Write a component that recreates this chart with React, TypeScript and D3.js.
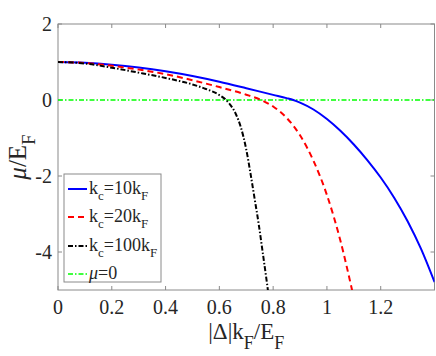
import React from "react";
import * as d3 from "d3";

const xTicks = [0, 0.2, 0.4, 0.6, 0.8, 1, 1.2];
const yTicks = [2, 0, -2, -4];

const blueX = [0, 0.1, 0.2, 0.3, 0.4, 0.5, 0.6, 0.7, 0.8, 0.85, 0.875, 0.9, 0.95, 1.0, 1.05, 1.1, 1.15, 1.2, 1.25, 1.3, 1.35, 1.4];
const blueY = [1, 0.98, 0.93, 0.855, 0.755, 0.63, 0.48, 0.31, 0.135, 0.05, 0, -0.07, -0.25, -0.5, -0.81, -1.17, -1.58, -2.04, -2.57, -3.19, -3.92, -4.79];

const redX = [0, 0.1, 0.2, 0.3, 0.4, 0.5, 0.6, 0.7, 0.755, 0.8, 0.85, 0.9, 0.95, 1.0, 1.05, 1.095];
const redY = [1, 0.975, 0.9, 0.8, 0.68, 0.52, 0.34, 0.14, 0, -0.17, -0.47, -0.93, -1.6, -2.5, -3.7, -5.05];

const blackX = [0, 0.1, 0.2, 0.3, 0.4, 0.5, 0.55, 0.6, 0.625, 0.64, 0.66, 0.68, 0.7, 0.715, 0.73, 0.746, 0.76, 0.777, 0.785];
const blackY = [1, 0.96, 0.85, 0.72, 0.58, 0.41, 0.29, 0.13, 0, -0.12, -0.35, -0.72, -1.3, -1.9, -2.55, -3.25, -3.95, -4.82, -5.25];

const greenX = [0, 1.4];
const greenY = [0, 0];

const W = 436, H = 356;
const L = 58, R = 434.5, T = 24, B = 290;

export default function App() {
  const x = d3.scaleLinear().domain([0, 1.4]).range([L, R]);
  const y = d3.scaleLinear().domain([-5, 2]).range([B, T]);
  const line = d3.line<[number, number]>().x(d => x(d[0])).y(d => y(d[1])).curve(d3.curveMonotoneX);
  const zip = (a: number[], b: number[]) => a.map((v, i) => [v, b[i]] as [number, number]);
  const axisColor = "#8a8a8a";
  const textColor = "#262626";
  const font = "'Liberation Serif', 'Times New Roman', serif";

  const series = [
    { d: zip(blueX, blueY), color: "#0000ff", dash: "none", w: 2, label: "10" },
    { d: zip(redX, redY), color: "#ff0000", dash: "6,4", w: 2, label: "20" },
    { d: zip(blackX, blackY), color: "#000000", dash: "5,2,1.5,2", w: 2, label: "100" },
  ];

  const legX = 64, legY = 174, legW = 97, legH = 108;
  const rowY = [189, 217, 246, 274];

  return (
    <svg width={W} height={H} style={{ position: "absolute", left: 0, top: 0, background: "#fff" }} fontFamily={font}>
      <defs>
        <clipPath id="plot">
          <rect x={L} y={T} width={R - L} height={B - T} />
        </clipPath>
      </defs>
      <rect x={0} y={0} width={W} height={H} fill="#fff" />
      <rect x={L} y={T} width={R - L} height={B - T} fill="none" stroke={axisColor} strokeWidth={1} />
      {xTicks.map(t => (
        <g key={"xt" + t}>
          <line x1={x(t)} x2={x(t)} y1={B} y2={B - 4} stroke={axisColor} />
          <line x1={x(t)} x2={x(t)} y1={T} y2={T + 4} stroke={axisColor} />
          <text x={x(t)} y={314} textAnchor="middle" fontSize={20} fill={textColor}>{String(t)}</text>
        </g>
      ))}
      {yTicks.map(t => (
        <g key={"yt" + t}>
          <line x1={L} x2={L + 4} y1={y(t)} y2={y(t)} stroke={axisColor} />
          <line x1={R} x2={R - 4} y1={y(t)} y2={y(t)} stroke={axisColor} />
          <text x={52} y={y(t)} dy="0.35em" textAnchor="end" fontSize={20} fill={textColor}>{String(t)}</text>
        </g>
      ))}
      <g clipPath="url(#plot)">
        <path d={line(zip(greenX, greenY)) || ""} fill="none" stroke="#00ff00" strokeWidth={1.5} strokeDasharray="5,2,1.5,2" />
        {series.map((s, i) => (
          <path key={i} d={line(s.d) || ""} fill="none" stroke={s.color} strokeWidth={s.w} strokeDasharray={s.dash} />
        ))}
      </g>
      <rect x={legX} y={legY} width={legW} height={legH} fill="#fff" stroke={axisColor} strokeWidth={1} />
      {series.map((s, i) => (
        <g key={"lg" + i}>
          <line x1={68} x2={87} y1={rowY[i]} y2={rowY[i]} stroke={s.color} strokeWidth={s.w} strokeDasharray={s.dash} />
          <text x={89} y={rowY[i] + 5} fontSize={18} fill={textColor}>
            k<tspan fontSize={13} dy={6}>c</tspan><tspan dy={-6}>=</tspan>{s.label}k<tspan fontSize={13} dy={6}>F</tspan>
          </text>
        </g>
      ))}
      <line x1={68} x2={87} y1={rowY[3]} y2={rowY[3]} stroke="#00ff00" strokeWidth={1.5} strokeDasharray="5,2,1.5,2" />
      <text x={89} y={rowY[3] + 5} fontSize={18} fill={textColor}>
        <tspan fontStyle="italic">μ</tspan>=0
      </text>
      <text x={(L + R) / 2} y={339} textAnchor="middle" fontSize={23} fill={textColor}>
        |Δ|k<tspan fontSize={18} dy={10}>F</tspan><tspan dy={-10}>/E</tspan><tspan fontSize={18} dy={10}>F</tspan>
      </text>
      <text transform={`translate(26, ${(T + B) / 2}) rotate(-90)`} textAnchor="middle" fontSize={25} fill={textColor}>
        <tspan fontStyle="italic">μ</tspan>/E<tspan fontSize={19} dy={9}>F</tspan>
      </text>
    </svg>
  );
}
